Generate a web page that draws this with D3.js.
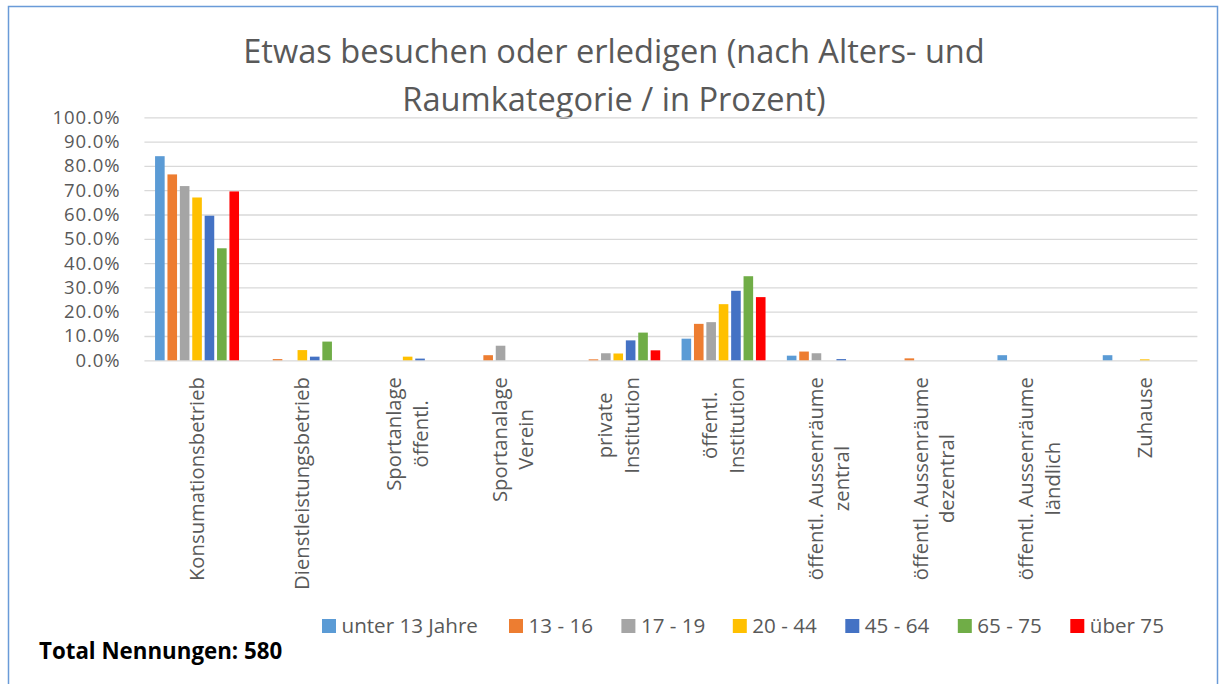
<!DOCTYPE html>
<html>
<head>
<meta charset="utf-8">
<script src="https://cdn.jsdelivr.net/npm/d3@7"></script>
<style>
  body { margin: 0; background: #fff; }
  text { font-family: "Open Sans", sans-serif; }
</style>
</head>
<body>
<div id="chart"></div>
<script>
// categories (x axis), each one split into label lines
var categories = [
  ["Konsumationsbetrieb"],
  ["Dienstleistungsbetrieb"],
  ["Sportanlage", "öffentl."],
  ["Sportanalage", "Verein"],
  ["private", "Institution"],
  ["öffentl.", "Institution"],
  ["öffentl. Aussenräume", "zentral"],
  ["öffentl. Aussenräume", "dezentral"],
  ["öffentl. Aussenräume", "ländlich"],
  ["Zuhause"]
];

// age groups
var series = ["unter 13 Jahre", "13 - 16", "17 - 19", "20 - 44", "45 - 64", "65 - 75", "über 75"];
var colors = ["#5B9BD5", "#ED7D31", "#A5A5A5", "#FFC000", "#4472C4", "#70AD47", "#FF0000"];

// values in percent, one array per age group, in category order
var unter13 = [84.0, 0,   0,   0,   0,    8.9,  1.9, 0,   2.1, 2.1];
var a13_16  = [76.5, 0.5, 0,   2.1, 0.4,  15.0, 3.6, 0.8, 0,   0];
var a17_19  = [71.7, 0,   0,   6.0, 2.9,  15.7, 2.9, 0,   0,   0];
var a20_44  = [67.0, 4.2, 1.5, 0,   2.8,  23.1, 0,   0,   0,   0.4];
var a45_64  = [59.5, 1.5, 0.7, 0,   8.2,  28.6, 0.5, 0,   0,   0];
var a65_75  = [46.1, 7.7, 0,   0,   11.4, 34.6, 0,   0,   0,   0];
var ueber75 = [69.5, 0,   0,   0,   4.1,  26.0, 0,   0,   0,   0];
var values = [unter13, a13_16, a17_19, a20_44, a45_64, a65_75, ueber75];

// y tick values (fractions)
var yTicks = [0, 0.1, 0.2, 0.3, 0.4, 0.5, 0.6, 0.7, 0.8, 0.9, 1.0];

var W = 1219, H = 684;
var plot = {left: 144.4, right: 1197.4, top: 117.3, bottom: 360.3};

var svg = d3.select("#chart")
  .append("svg")
    .attr("width", W)
    .attr("height", H);

// outer frame
svg.append("rect")
    .attr("x", 8.5)
    .attr("y", 6.5)
    .attr("width", 1209)
    .attr("height", 700)
    .attr("fill", "none")
    .attr("stroke", "#6A9BD8")
    .attr("stroke-width", 1.5);

// title
var title = svg.append("text")
    .attr("text-anchor", "middle")
    .attr("fill", "#595959")
    .style("font-size", "32.6px");
title.append("tspan").attr("x", 614).attr("y", 63).text("Etwas besuchen oder erledigen (nach Alters- und");
title.append("tspan").attr("x", 614).attr("y", 111).text("Raumkategorie / in Prozent)");

var x0 = d3.scaleBand()
  .domain(d3.range(categories.length))
  .range([plot.left, plot.right])
  .padding(0);

var x1 = d3.scaleBand()
  .domain(d3.range(series.length))
  .range([0, x0.bandwidth()])
  .paddingInner(0.226)
  .paddingOuter(0.86);

var y = d3.scaleLinear()
  .domain([0, 1])
  .range([plot.bottom, plot.top]);

// gridlines + y labels
var yAxis = svg.append("g")
  .attr("transform", "translate(" + plot.left + ",0)")
  .call(d3.axisLeft(y)
    .tickValues(yTicks)
    .tickFormat(d3.format(".1%"))
    .tickSize(-(plot.right - plot.left))
    .tickPadding(24));
yAxis.select(".domain").remove();
yAxis.selectAll(".tick line")
  .attr("stroke", "#D9D9D9")
  .attr("stroke-width", 1.3);
yAxis.selectAll(".tick text")
  .attr("fill", "#595959")
  .style("font-family", "'Open Sans', sans-serif")
  .style("font-size", "18.5px")
  .style("letter-spacing", "0.9px");

// bars
var groups = svg.append("g")
  .selectAll("g")
  .data(values)
  .join("g")
    .attr("fill", function(d, i) { return colors[i]; });

groups.selectAll("rect")
  .data(function(d, i) { return d.map(function(v, j) { return {s: i, c: j, v: v}; }); })
  .join("rect")
    .filter(function(d) { return d.v > 0; })
    .attr("x", function(d) { return x0(d.c) + x1(d.s); })
    .attr("y", function(d) { return y(d.v / 100); })
    .attr("width", x1.bandwidth())
    .attr("height", function(d) { return y(0) - y(d.v / 100); });

// rotated category labels, lines centred on each other, block ends at top
var LINE_H = 26.6, LABEL_TOP = 377;
var labels = svg.append("g")
  .selectAll("text")
  .data(categories)
  .join("text")
    .attr("fill", "#595959")
    .attr("text-anchor", "middle")
    .style("font-size", "20.3px");

labels.each(function(lines, i) {
  var t = d3.select(this);
  lines.forEach(function(line, k) {
    t.append("tspan")
      .attr("x", 0)
      .attr("y", (k - (lines.length - 1) / 2) * LINE_H + 7)
      .text(line);
  });
  var maxLen = d3.max(t.selectAll("tspan").nodes(), function(n) { return n.getComputedTextLength(); });
  var cx = x0(i) + x0.bandwidth() / 2;
  t.attr("transform", "translate(" + cx + "," + (LABEL_TOP + maxLen / 2) + ") rotate(-90)");
});

// legend
var legendX = [322, 509, 621.4, 732.8, 845.3, 957.8, 1070.3];
var legend = svg.append("g")
  .selectAll("g")
  .data(series)
  .join("g")
    .attr("transform", function(d, i) { return "translate(" + legendX[i] + ",619)"; });
legend.append("rect")
    .attr("width", 14)
    .attr("height", 14)
    .attr("fill", function(d, i) { return colors[i]; });
legend.append("text")
    .attr("x", 19.5)
    .attr("y", 14)
    .attr("fill", "#595959")
    .style("font-size", "20.6px")
    .text(function(d) { return d; });

// footer
svg.append("text")
    .attr("x", 39)
    .attr("y", 659)
    .attr("fill", "#000")
    .style("font-weight", "bold")
    .style("font-size", "22.3px")
    .text("Total Nennungen: 580");
</script>
</body>
</html>
